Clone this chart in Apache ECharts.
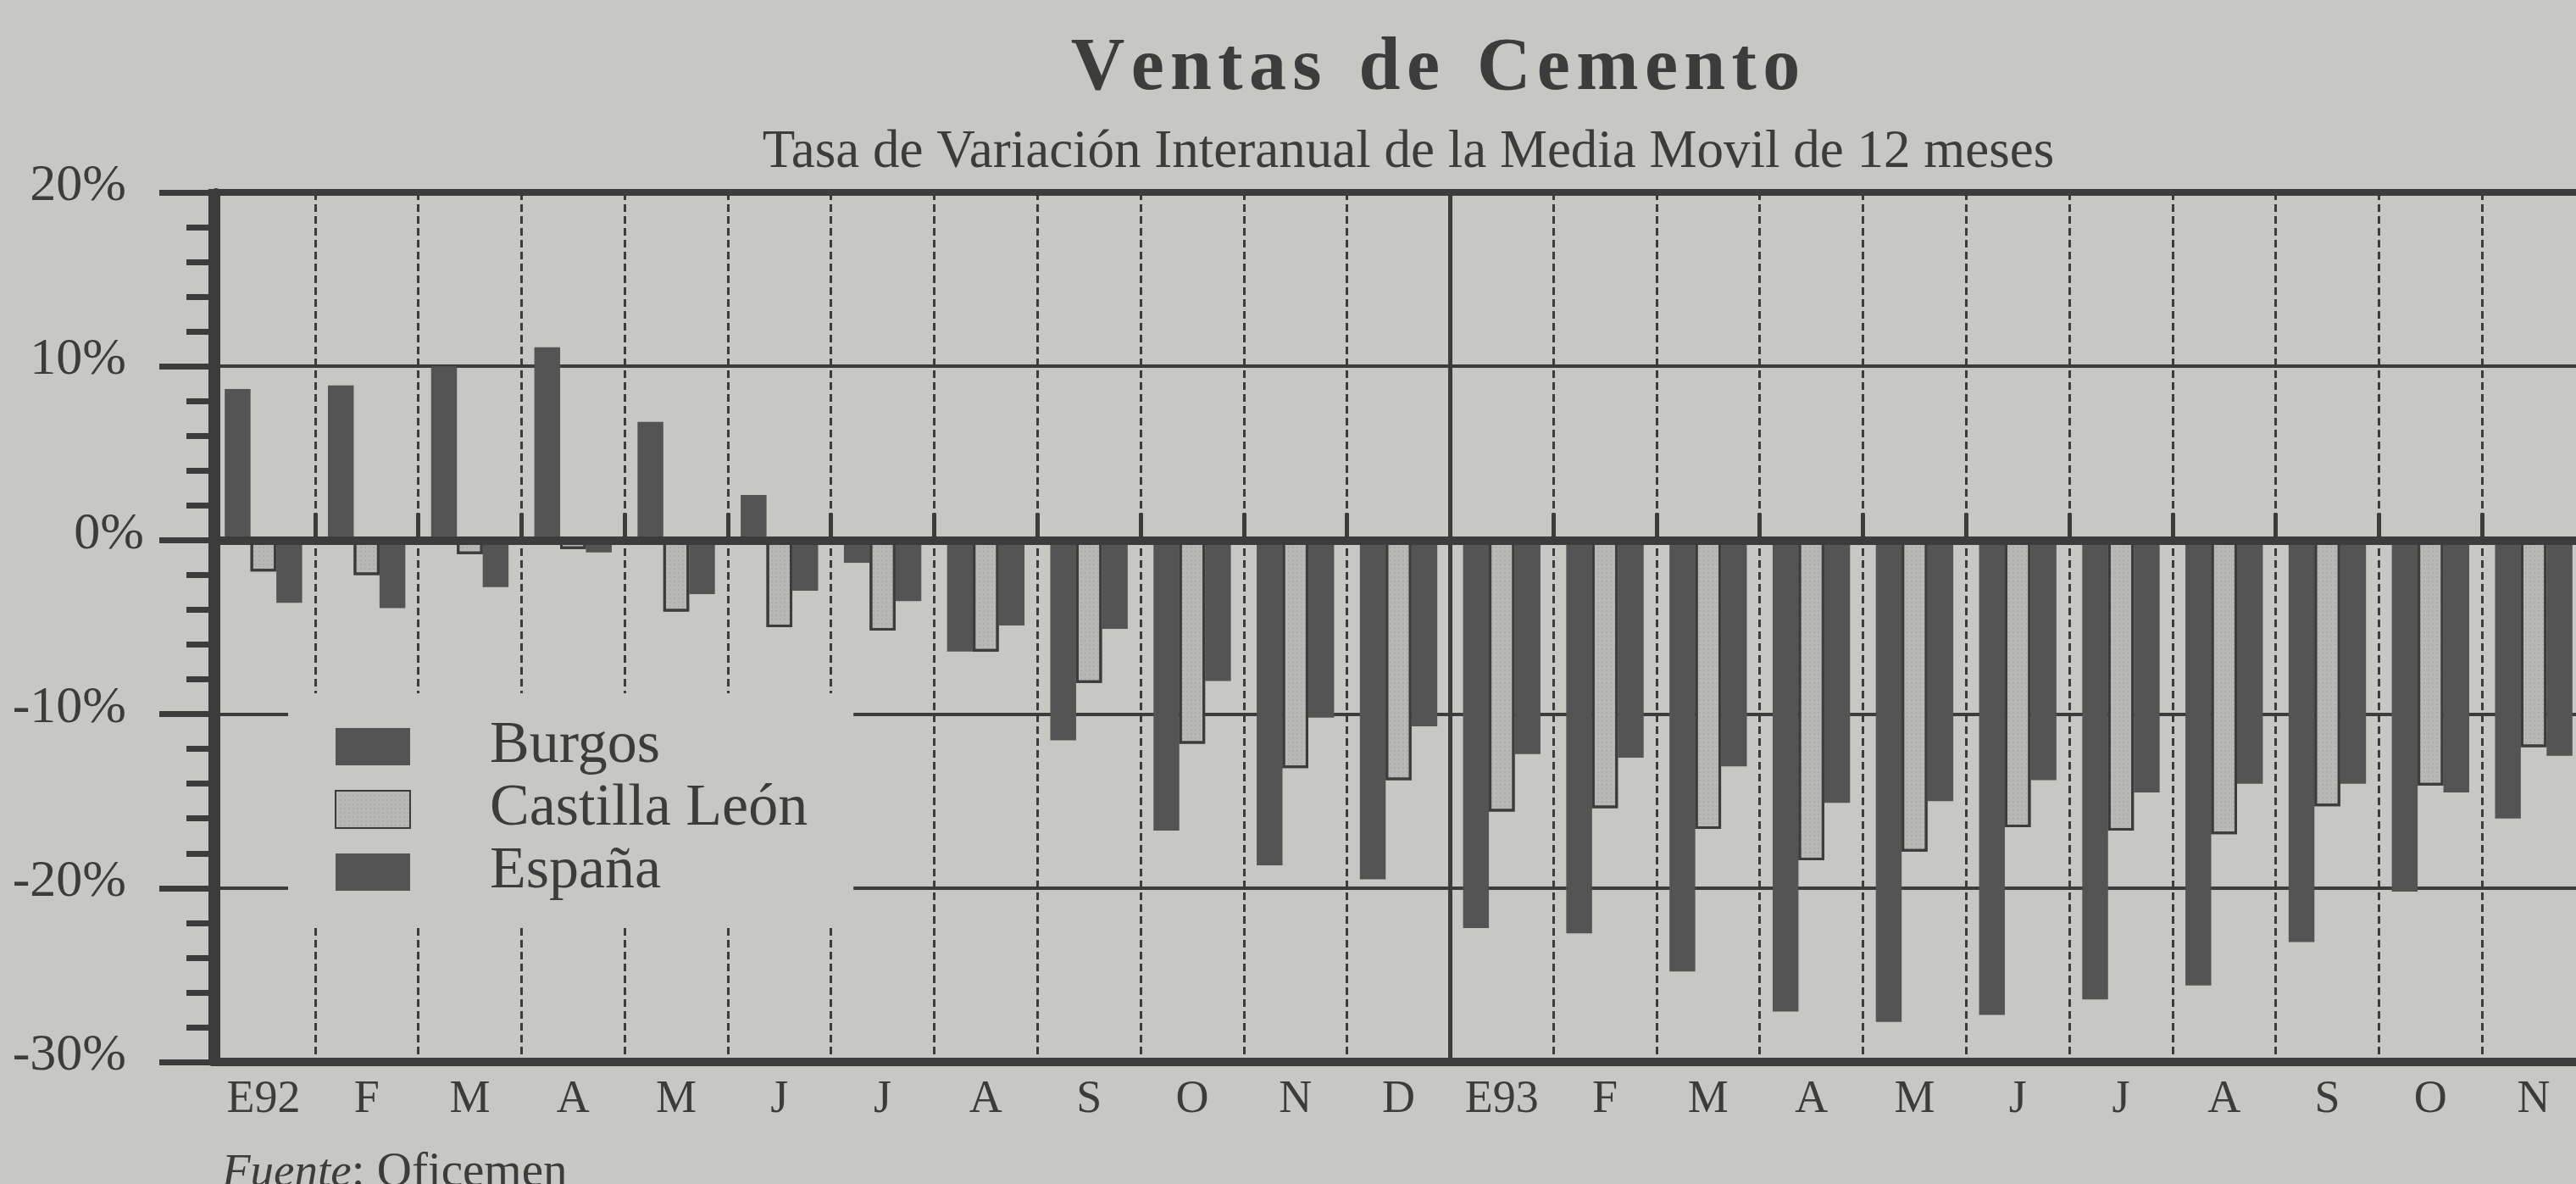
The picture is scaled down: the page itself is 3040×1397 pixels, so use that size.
<!DOCTYPE html>
<html>
<head>
<meta charset="utf-8">
<title>Ventas de Cemento</title>
<script src="https://cdn.jsdelivr.net/npm/echarts@6/dist/echarts.min.js"></script>
<style>
  html, body { margin: 0; padding: 0; background: #c7c7c4; }
  #chart { width: 3040px; height: 1397px; }
</style>
</head>
<body>
<div id="chart"></div>
<script>
const months = ['E92', 'F', 'M', 'A', 'M', 'J', 'J', 'A', 'S', 'O', 'N', 'D',
  'E93', 'F', 'M', 'A', 'M', 'J', 'J', 'A', 'S', 'O', 'N']

// tasa de variación interanual (%)
const burgos = [8.7, 8.9, 10.0, 11.1, 6.8, 2.6, -1.3, -6.4, -11.5, -16.7, -18.7, -19.5,
  -22.3, -22.6, -24.8, -27.1, -27.7, -27.3, -26.4, -25.6, -23.1, -20.2, -16.0]
const castilla = [-1.8, -2.0, -0.8, -0.5, -4.1, -5.0, -5.2, -6.4, -8.2, -11.7, -13.1, -13.8,
  -15.6, -15.4, -16.6, -18.4, -17.9, -16.5, -16.7, -16.9, -15.3, -14.1, -11.9]
const espana = [-3.6, -3.9, -2.7, -0.7, -3.1, -2.9, -3.5, -4.9, -5.1, -8.1, -10.2, -10.7,
  -12.3, -12.5, -13.0, -15.1, -15.0, -13.8, -14.5, -14.0, -14.0, -14.5, -12.4]

const yTicks = { min: -30, max: 20, step: 10 }
const yearBreak = 12

const paper = '#c7c7c4'
const ink = '#3c3c3c'
const dark = '#545454'
const light = '#b8b8b5'
const serif = '"Liberation Serif", "Times New Roman", serif'

const title = 'Ventas de Cemento'
  .split(' ')
  .map(w => w.split('').join('\u200A'))
  .join('  ')

const chart = echarts.init(document.getElementById('chart'))

chart.setOption({
  backgroundColor: paper,
  animation: false,
  textStyle: { fontFamily: serif, color: ink },
  title: [
    {
      text: title,
      left: 1694,
      top: 38,
      padding: 0,
      textAlign: 'center',
      textStyle: { fontFamily: serif, fontSize: 88, fontWeight: 'bold', color: ink }
    },
    {
      text: 'Tasa de Variación Interanual de la Media Movil de 12 meses',
      left: 1662,
      top: 149,
      padding: 0,
      textAlign: 'center',
      textStyle: { fontFamily: serif, fontSize: 63, fontWeight: 'normal', color: ink }
    },
    {
      text: '{i|Fuente}: Oficemen',
      left: 262,
      top: 1356,
      padding: 0,
      textStyle: {
        fontFamily: serif, fontSize: 57, fontWeight: 'normal', color: ink,
        rich: {
          i: { fontFamily: serif, fontSize: 55, fontStyle: 'italic', color: ink }
        }
      }
    }
  ],
  legend: {
    data: ['Burgos', 'Castilla León', 'España'],
    orient: 'vertical',
    left: 340,
    top: 818,
    padding: [28, 54, 26, 55],
    backgroundColor: paper,
    itemGap: 4,
    itemWidth: 88,
    itemHeight: 44,
    icon: 'rect',
    z: 10,
    textStyle: { fontFamily: serif, fontSize: 70, color: ink, padding: [0, 0, 0, 89] }
  },
  grid: {
    left: 250,
    right: -11,
    top: 227,
    bottom: 144,
    show: true,
    borderColor: ink,
    borderWidth: 8,
    backgroundColor: 'transparent',
    outerBoundsMode: 'none'
  },
  xAxis: [
    {
      type: 'category',
      data: months,
      position: 'bottom',
      axisLine: { onZero: false, lineStyle: { color: ink, width: 10 } },
      axisTick: { show: false },
      axisLabel: { interval: 0, margin: 18, fontFamily: serif, fontSize: 54, color: ink },
      splitLine: { show: true, interval: 0, lineStyle: { color: ink, width: 3, type: [9, 5] } }
    },
    {
      type: 'category',
      data: months,
      position: 'top',
      z: 5,
      axisLine: { onZero: true, lineStyle: { color: ink, width: 10 } },
      axisTick: { show: true, interval: 0, length: 32, lineStyle: { color: ink, width: 5 } },
      axisLabel: { show: false },
      splitLine: { show: false }
    },
    {
      type: 'value',
      min: 0,
      max: months.length,
      show: false
    }
  ],
  yAxis: {
    type: 'value',
    min: yTicks.min,
    max: yTicks.max,
    interval: yTicks.step,
    offset: -5,
    axisLine: { show: true, onZero: false, lineStyle: { color: ink, width: 10 } },
    axisTick: { show: true, length: 67, lineStyle: { color: ink, width: 7 } },
    minorTick: { show: true, splitNumber: 5, length: 35, lineStyle: { color: ink, width: 7 } },
    splitLine: { show: true, lineStyle: { color: ink, width: 4 } },
    axisLabel: {
      margin: 85,
      padding: [0, 0, 14, 0],
      formatter: v => v === 0 ? '{z|0%}' : '{n|' + v + '%}',
      rich: {
        z: { fontFamily: serif, fontSize: 62, color: ink },
        n: { fontFamily: serif, fontSize: 62, color: ink, padding: [0, 21, 0, 0] }
      }
    }
  },
  series: [
    {
      name: 'Burgos',
      type: 'bar',
      barGap: '0%',
      barCategoryGap: '25%',
      itemStyle: { color: dark },
      data: burgos
    },
    {
      name: 'Castilla León',
      type: 'bar',
      itemStyle: {
        color: light,
        borderColor: ink,
        borderWidth: 3,
        decal: {
          symbol: 'circle',
          symbolSize: 0.8,
          color: 'rgba(70,70,70,0.22)',
          dashArrayX: [[2, 3]],
          dashArrayY: [2, 3]
        }
      },
      data: castilla
    },
    {
      name: 'España',
      type: 'bar',
      itemStyle: { color: dark },
      data: espana
    },
    {
      // separación entre 1992 y 1993
      name: 'year',
      type: 'line',
      xAxisIndex: 2,
      data: [],
      markLine: {
        silent: true,
        symbol: 'none',
        label: { show: false },
        lineStyle: { color: ink, width: 5, type: 'solid' },
        data: [{ xAxis: yearBreak }]
      }
    }
  ]
})
</script>
</body>
</html>
